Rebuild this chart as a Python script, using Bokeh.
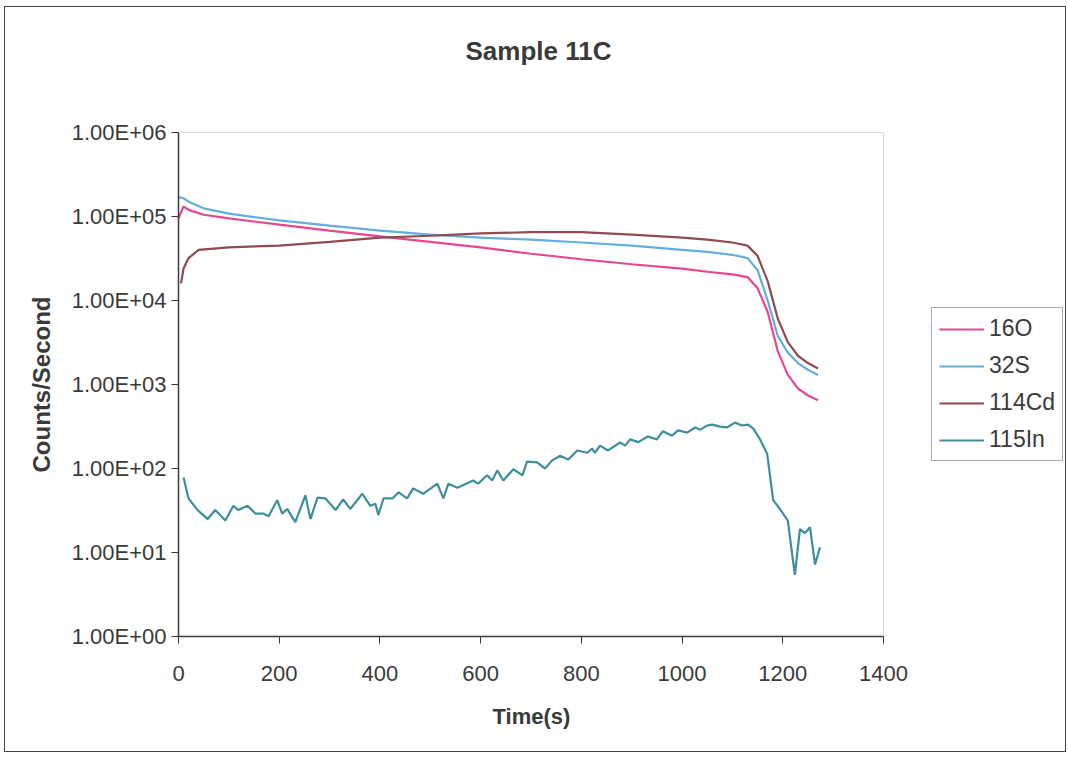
from bokeh.plotting import figure
from bokeh.models import (Range1d, FixedTicker, Legend, LegendItem, BoxAnnotation,
                          Label, Title)
from bokeh.embed import file_html
from bokeh.resources import INLINE

# ---- data ----
t_main = [0, 10, 20, 50, 100, 200, 300, 400, 500, 600, 700, 800, 900, 1000,
          1050, 1100, 1130, 1150, 1170, 1190, 1210, 1230, 1250, 1270]
o16 = [9.5e4, 1.32e5, 1.2e5, 1.05e5, 9.5e4, 8.0e4, 6.8e4, 5.8e4, 5.0e4, 4.3e4,
       3.6e4, 3.1e4, 2.7e4, 2.4e4, 2.2e4, 2.05e4, 1.9e4, 1.4e4, 7.3e3, 2.5e3,
       1.3e3, 900, 740, 650]
s32 = [1.7e5, 1.65e5, 1.5e5, 1.25e5, 1.08e5, 9.0e4, 7.8e4, 6.8e4, 6.1e4, 5.6e4,
       5.3e4, 4.9e4, 4.5e4, 4.0e4, 3.8e4, 3.5e4, 3.2e4, 2.3e4, 1.0e4, 3.8e3,
       2.4e3, 1.8e3, 1.5e3, 1.3e3]
t_cd = [5, 10, 20, 40, 100, 200, 300, 400, 500, 600, 700, 800, 900, 1000,
        1050, 1100, 1130, 1150, 1170, 1190, 1210, 1230, 1250, 1270]
cd114 = [1.6e4, 2.4e4, 3.2e4, 4.0e4, 4.3e4, 4.5e4, 5.0e4, 5.6e4, 5.9e4, 6.3e4,
         6.5e4, 6.5e4, 6.1e4, 5.6e4, 5.3e4, 4.9e4, 4.5e4, 3.4e4, 1.7e4, 6.1e3,
         3.2e3, 2.2e3, 1.8e3, 1.55e3]
t_in = [10, 20, 38, 58, 73, 93, 109, 119, 137, 153, 169, 179, 196, 206, 216, 232,
        252, 262, 276, 292, 312, 327, 341, 365, 381, 391, 397, 407, 425, 437,
        454, 466, 486, 514, 526, 536, 554, 585, 595, 613, 623, 633, 645, 665,
        683, 692, 712, 728, 742, 758, 774, 792, 812, 821, 827, 837, 853, 877,
        887, 897, 913, 932, 950, 962, 980, 992, 1010, 1026, 1036, 1050, 1060,
        1075, 1089, 1105, 1119, 1131, 1141, 1155, 1169, 1181, 1194, 1210, 1224,
        1234, 1244, 1254, 1264, 1274]
in115 = [78, 44, 32, 25, 32, 24, 36, 32, 36, 29, 29, 27, 42, 29, 33, 23,
         48, 25, 45, 44, 32, 43, 33, 50, 36, 38, 28, 44, 44, 52,
         44, 58, 50, 66, 44, 66, 59, 72, 66, 83, 72, 95, 72, 98,
         83, 121, 118, 100, 125, 142, 128, 164, 154, 173, 154, 187, 164, 204,
         187, 222, 206, 240, 222, 278, 246, 284, 267, 308, 290, 325, 333,
         315, 308, 352, 325, 333, 301, 222, 149, 42, 33, 24, 5.4,
         19, 17, 20, 7.2, 11.5]

series_names = ["16O", "32S", "114Cd", "115In"]
series_colors = ["#E8468F", "#62AEDD", "#8E4B52", "#3E8E9C"]

y_ticks = [1, 10, 100, 1000, 10000, 100000, 1000000]
y_tick_labels = ["1.00E+00", "1.00E+01", "1.00E+02", "1.00E+03",
                 "1.00E+04", "1.00E+05", "1.00E+06"]
x_ticks = [0, 200, 400, 600, 800, 1000, 1200, 1400]
X_MIN, X_MAX = 0, 1400
Y_MIN, Y_MAX = 1, 1e6

FONT = "Liberation Sans"
TXT = "#3a3a3a"

# ---- layout (pixels) ----
W, H = 1062, 746
B_LEFT, B_RIGHT, B_TOP, B_BOTTOM = 173, 2, 2, 117
FRAME_W = W - B_LEFT - B_RIGHT
FRAME_H = H - B_TOP - B_BOTTOM
AREA_W, AREA_H = 705, 504          # visible plot-area size in px
x_end = X_MAX * FRAME_W / AREA_W
y_end = 10 ** (6.0 * FRAME_H / AREA_H)

p = figure(width=W, height=H, y_axis_type="log",
           x_range=Range1d(X_MIN, x_end), y_range=Range1d(Y_MIN, y_end),
           output_backend="svg", toolbar_location=None)
p.min_border_left = B_LEFT
p.min_border_right = B_RIGHT
p.min_border_top = B_TOP
p.min_border_bottom = B_BOTTOM
p.styles = {"border": "1px solid #444444", "margin": "6px 0px 0px 4px"}

p.background_fill_color = "white"
p.border_fill_color = "white"
p.outline_line_color = None
p.grid.visible = False

# plot-area border
p.add_layout(BoxAnnotation(left=X_MIN, right=X_MAX, bottom=Y_MIN, top=Y_MAX,
                           fill_alpha=0, line_color="#808080", line_width=1))

# axes
p.yaxis.ticker = FixedTicker(ticks=y_ticks, minor_ticks=[])
p.yaxis.major_label_overrides = dict(zip(y_ticks, y_tick_labels))
p.xaxis.ticker = FixedTicker(ticks=x_ticks, minor_ticks=[])
p.xaxis.bounds = (X_MIN, X_MAX)
p.yaxis.bounds = (Y_MIN, Y_MAX)
for ax in (p.xaxis[0], p.yaxis[0]):
    ax.axis_line_color = "#333333"
    ax.axis_line_width = 1.5
    ax.major_tick_line_color = "#333333"
    ax.major_tick_out = 7
    ax.major_tick_in = 0
    ax.minor_tick_out = 0
    ax.minor_tick_in = 0
    ax.major_label_text_font = FONT
    ax.major_label_text_font_size = "22px"
    ax.major_label_text_color = TXT
p.xaxis.major_label_standoff = 22
p.yaxis.major_label_standoff = 5

# axis titles (placed along the visible plot area)
xlabel = Title(text="Time(s)", align="left", offset=314, vertical_align="top",
               standoff=40, text_font=FONT, text_font_size="22px",
               text_font_style="bold", text_color=TXT)
p.add_layout(xlabel, "below")
ylabel = Title(text="Counts/Second", align="left", offset=164, vertical_align="bottom",
               standoff=28, text_font=FONT, text_font_size="24px",
               text_font_style="bold", text_color=TXT)
p.add_layout(ylabel, "left")

r1 = p.line(t_main, o16, line_color=series_colors[0], line_width=2.2)
r2 = p.line(t_main, s32, line_color=series_colors[1], line_width=2.2)
r3 = p.line(t_cd, cd114, line_color=series_colors[2], line_width=2.2)
r4 = p.line(t_in, in115, line_color=series_colors[3], line_width=2.2)

# title
p.add_layout(Label(text="Sample 11C", x=360, y=586, x_units="screen", y_units="screen",
                   text_align="center", text_baseline="middle",
                   text_font=FONT, text_font_size="26px", text_font_style="bold",
                   text_color=TXT))

legend = Legend(items=[LegendItem(label=n, renderers=[r]) for n, r in
                       zip(series_names, [r1, r2, r3, r4])],
                location=(753, 175))
legend.label_text_font = FONT
legend.label_text_font_size = "23px"
legend.label_text_color = TXT
legend.glyph_width = 45
legend.glyph_height = 20
legend.label_height = 20
legend.label_width = 66
legend.label_standoff = 5
legend.spacing = 10
legend.padding = 7
legend.margin = 0
legend.border_line_color = "#555555"
legend.border_line_width = 1
legend.background_fill_color = "white"
p.add_layout(legend, "center")

open("out.html", "w").write(file_html(p, INLINE))
